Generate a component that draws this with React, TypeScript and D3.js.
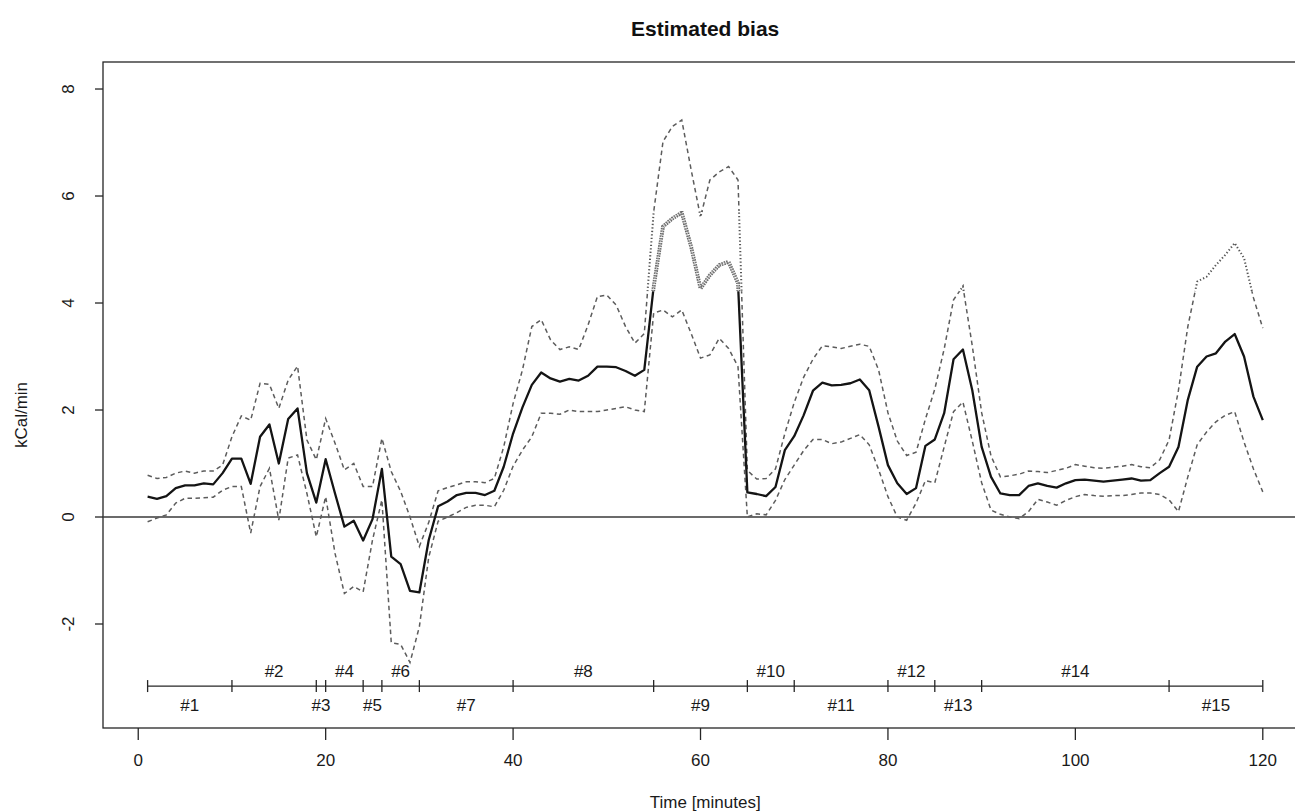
import { useEffect, useRef } from 'react'
import * as d3 from 'd3'

// minute index of every estimate
const MINUTES = Array.from({ length: 120 }, (_, i) => i + 1)

const BIAS = [
  0.38, 0.34, 0.39, 0.54, 0.59, 0.59, 0.63, 0.61, 0.82, 1.09,
  1.09, 0.62, 1.5, 1.73, 1.0, 1.83, 2.03, 0.82, 0.27, 1.08,
  0.44, -0.18, -0.07, -0.44, -0.04, 0.9, -0.74, -0.88, -1.38, -1.41,
  -0.43, 0.2, 0.29, 0.41, 0.45, 0.45, 0.41, 0.49, 0.94, 1.56,
  2.05, 2.47, 2.7, 2.59, 2.53, 2.58, 2.55, 2.64, 2.81, 2.81,
  2.8, 2.73, 2.64, 2.75, 4.3, 5.43, 5.58, 5.69, 5.05, 4.27,
  4.52, 4.71, 4.77, 4.37, 0.46, 0.43, 0.39, 0.56, 1.25, 1.51,
  1.9, 2.36, 2.51, 2.46, 2.47, 2.5, 2.57, 2.37, 1.69, 0.97,
  0.63, 0.43, 0.54, 1.33, 1.45, 1.94, 2.95, 3.13, 2.37, 1.31,
  0.75, 0.44, 0.41, 0.41, 0.58, 0.63, 0.58, 0.55, 0.63, 0.69,
  0.7, 0.68, 0.66, 0.68, 0.7, 0.72, 0.68, 0.69, 0.82, 0.94,
  1.31, 2.19, 2.81, 3.0, 3.06, 3.28, 3.42, 3.0, 2.25, 1.81,
]

const UPPER = [
  0.78, 0.72, 0.74, 0.82, 0.86, 0.82, 0.86, 0.86, 0.97, 1.5,
  1.89, 1.81, 2.5, 2.48, 2.03, 2.56, 2.82, 1.44, 1.07, 1.84,
  1.38, 0.88, 1.0, 0.57, 0.57, 1.47, 0.85, 0.48, 0.0, -0.55,
  -0.1, 0.49, 0.55, 0.6, 0.66, 0.66, 0.64, 0.72, 1.31, 2.12,
  2.75, 3.56, 3.69, 3.31, 3.13, 3.18, 3.13, 3.59, 4.12, 4.15,
  3.96, 3.56, 3.25, 3.43, 5.7, 7.02, 7.3, 7.42, 6.49, 5.61,
  6.3, 6.45, 6.55, 6.3, 0.87, 0.71, 0.72, 0.9, 1.56, 2.14,
  2.61, 2.95, 3.2, 3.18, 3.15, 3.19, 3.23, 3.19, 2.75, 1.95,
  1.42, 1.15, 1.21, 1.83, 2.39, 3.14, 4.06, 4.31, 3.2, 1.95,
  1.14, 0.75, 0.77, 0.8, 0.86, 0.85, 0.83, 0.87, 0.91, 0.98,
  0.95, 0.92, 0.91, 0.93, 0.95, 0.98, 0.94, 0.92, 1.07, 1.44,
  2.37, 3.56, 4.4, 4.49, 4.71, 4.9, 5.12, 4.84, 4.1, 3.53,
]

const LOWER = [
  -0.09, -0.02, 0.04, 0.26, 0.35, 0.35, 0.36, 0.37, 0.5, 0.57,
  0.57, -0.3, 0.57, 0.91, -0.06, 1.1, 1.16, 0.44, -0.37, 0.38,
  -0.68, -1.43, -1.3, -1.4, -0.43, 0.32, -2.35, -2.38, -2.72, -2.05,
  -0.75, -0.08, 0.0, 0.08, 0.18, 0.22, 0.22, 0.19, 0.5, 0.95,
  1.25, 1.5, 1.94, 1.94, 1.92, 2.0, 1.97, 1.97, 1.97, 2.0,
  2.03, 2.06, 2.0, 1.97, 3.81, 3.87, 3.74, 3.87, 3.43, 2.97,
  3.03, 3.34, 3.15, 2.81, 0.0, 0.06, 0.04, 0.31, 0.7, 0.97,
  1.24, 1.45, 1.45, 1.37, 1.4, 1.47, 1.54, 1.35, 0.89, 0.38,
  0.0, -0.06, 0.26, 0.68, 0.64, 1.31, 1.97, 2.15, 1.42, 0.64,
  0.13, 0.05, 0.0, -0.03, 0.1, 0.33, 0.28, 0.22, 0.31, 0.38,
  0.42, 0.4, 0.39, 0.4, 0.4, 0.42, 0.45, 0.45, 0.42, 0.32,
  0.1, 0.75, 1.35, 1.59, 1.78, 1.9, 1.97, 1.4, 0.9, 0.47,
]

// activity segments (minute boundaries) shown along the bottom
const SEGMENT_BREAKS = [1, 10, 19, 20, 24, 26, 30, 40, 55, 65, 70, 80, 85, 90, 110, 120]
const SEGMENT_LABELS = ['#1', '#2', '#3', '#4', '#5', '#6', '#7', '#8', '#9', '#10', '#11', '#12', '#13', '#14', '#15']
const SEGMENT_LEVEL = -3.16

const X_TICKS = [0, 20, 40, 60, 80, 100, 120]
const Y_TICKS = [-2, 0, 2, 4, 6, 8]

// value band where the source raster shows the lines as beads
const BEAD_BAND = [4.22, 5.72]

const W = 1295
const H = 812
const FONT = '"Liberation Sans", Arial, Helvetica, sans-serif'

export default function App() {
  const svgRef = useRef<SVGSVGElement>(null)

  useEffect(() => {
    if (!svgRef.current) return
    const svg = d3.select(svgRef.current)
    svg.selectAll('*').remove()

    const plot = { left: 103, right: 1307.4, top: 62, bottom: 728 }
    const x = d3.scaleLinear().domain([-3.76, 124.76]).range([plot.left, plot.right])
    const y = d3.scaleLinear().domain([-3.944, 8.505]).range([plot.bottom, plot.top])
    const ink = '#262626'

    svg.append('rect').attr('width', W).attr('height', H).attr('fill', '#fff')

    // clip regions: outside the bead band and inside it
    const defs = svg.append('defs')
    const bandTop = y(BEAD_BAND[1])
    const bandBot = y(BEAD_BAND[0])
    const outside = defs.append('clipPath').attr('id', 'outside')
    outside.append('rect').attr('x', plot.left).attr('y', plot.top)
      .attr('width', plot.right - plot.left).attr('height', bandTop - plot.top)
    outside.append('rect').attr('x', plot.left).attr('y', bandBot)
      .attr('width', plot.right - plot.left).attr('height', plot.bottom - bandBot)
    defs.append('clipPath').attr('id', 'band')
      .append('rect').attr('x', plot.left).attr('y', bandTop)
      .attr('width', plot.right - plot.left).attr('height', bandBot - bandTop)

    // title
    svg.append('text')
      .attr('x', (plot.left + plot.right) / 2).attr('y', 36)
      .attr('text-anchor', 'middle')
      .style('font-family', FONT).style('font-size', '21px').style('font-weight', '700')
      .attr('fill', '#111')
      .text('Estimated bias')

    // box
    svg.append('rect')
      .attr('x', plot.left).attr('y', plot.top)
      .attr('width', plot.right - plot.left).attr('height', plot.bottom - plot.top)
      .attr('fill', 'none').attr('stroke', ink).attr('stroke-width', 1.3)

    // x axis
    X_TICKS.forEach((t) => {
      svg.append('line')
        .attr('x1', x(t)).attr('x2', x(t))
        .attr('y1', plot.bottom).attr('y2', plot.bottom + 12)
        .attr('stroke', ink).attr('stroke-width', 1.3)
      svg.append('text')
        .attr('x', x(t)).attr('y', plot.bottom + 38)
        .attr('text-anchor', 'middle')
        .style('font-family', FONT).style('font-size', '17px')
        .attr('fill', '#1a1a1a')
        .text(t)
    })
    svg.append('text')
      .attr('x', (plot.left + plot.right) / 2).attr('y', 808)
      .attr('text-anchor', 'middle')
      .style('font-family', FONT).style('font-size', '17px')
      .attr('fill', '#1a1a1a')
      .text('Time [minutes]')

    // y axis
    Y_TICKS.forEach((v) => {
      svg.append('line')
        .attr('x1', plot.left - 8).attr('x2', plot.left)
        .attr('y1', y(v)).attr('y2', y(v))
        .attr('stroke', ink).attr('stroke-width', 1.3)
      svg.append('text')
        .attr('transform', `translate(68,${y(v)}) rotate(-90)`)
        .attr('text-anchor', 'middle')
        .attr('dominant-baseline', 'central')
        .style('font-family', FONT).style('font-size', '17px')
        .attr('fill', '#1a1a1a')
        .text(v)
    })
    svg.append('text')
      .attr('transform', `translate(21,${(plot.top + plot.bottom) / 2 + 20}) rotate(-90)`)
      .attr('text-anchor', 'middle')
      .attr('dominant-baseline', 'central')
      .style('font-family', FONT).style('font-size', '17px')
      .attr('fill', '#1a1a1a')
      .text('kCal/min')

    // zero reference line
    svg.append('line')
      .attr('x1', plot.left).attr('x2', plot.right)
      .attr('y1', y(0)).attr('y2', y(0))
      .attr('stroke', '#3a3a3a').attr('stroke-width', 1.5)

    const line = d3.line<number>()
      .x((_, i) => x(MINUTES[i]))
      .y((d) => y(d))

    const plain = svg.append('g').attr('clip-path', 'url(#outside)')
    const beads = svg.append('g').attr('clip-path', 'url(#band)')

    ;[UPPER, LOWER].forEach((series) => {
      plain.append('path')
        .attr('d', line(series))
        .attr('fill', 'none')
        .attr('stroke', '#5c5c5c')
        .attr('stroke-width', 1.5)
        .attr('stroke-dasharray', '4.5,3.5')
      beads.append('path')
        .attr('d', line(series))
        .attr('fill', 'none')
        .attr('stroke', '#555')
        .attr('stroke-width', 2)
        .attr('stroke-dasharray', '1.3,2.2')
    })

    plain.append('path')
      .attr('d', line(BIAS))
      .attr('fill', 'none')
      .attr('stroke', '#141414')
      .attr('stroke-width', 2.3)
      .attr('stroke-linejoin', 'round')
    beads.append('path')
      .attr('d', line(BIAS))
      .attr('fill', 'none')
      .attr('stroke', '#6a6a6a')
      .attr('stroke-width', 3.8)
      .attr('stroke-dasharray', '1.6,0.9')
    beads.append('path')
      .attr('d', line(BIAS))
      .attr('fill', 'none')
      .attr('stroke', '#c4c4c4')
      .attr('stroke-width', 1.1)
      .attr('stroke-dasharray', '1,1.5')

    // activity segments
    const sy = y(SEGMENT_LEVEL)
    svg.append('line')
      .attr('x1', x(SEGMENT_BREAKS[0])).attr('x2', x(SEGMENT_BREAKS[SEGMENT_BREAKS.length - 1]))
      .attr('y1', sy).attr('y2', sy)
      .attr('stroke', ink).attr('stroke-width', 1.3)
    SEGMENT_BREAKS.forEach((b) => {
      svg.append('line')
        .attr('x1', x(b)).attr('x2', x(b))
        .attr('y1', sy - 6).attr('y2', sy + 6)
        .attr('stroke', ink).attr('stroke-width', 1.3)
    })
    SEGMENT_LABELS.forEach((label, i) => {
      const mid = (SEGMENT_BREAKS[i] + SEGMENT_BREAKS[i + 1]) / 2
      const above = i % 2 === 1
      svg.append('text')
        .attr('x', x(mid))
        .attr('y', above ? sy - 9 : sy + 25)
        .attr('text-anchor', 'middle')
        .style('font-family', FONT).style('font-size', '17px')
        .attr('fill', '#1a1a1a')
        .text(label)
    })
  }, [])

  return (
    <svg
      ref={svgRef}
      width={W}
      height={H}
      style={{ position: 'absolute', left: 0, top: 0, display: 'block' }}
    />
  )
}
